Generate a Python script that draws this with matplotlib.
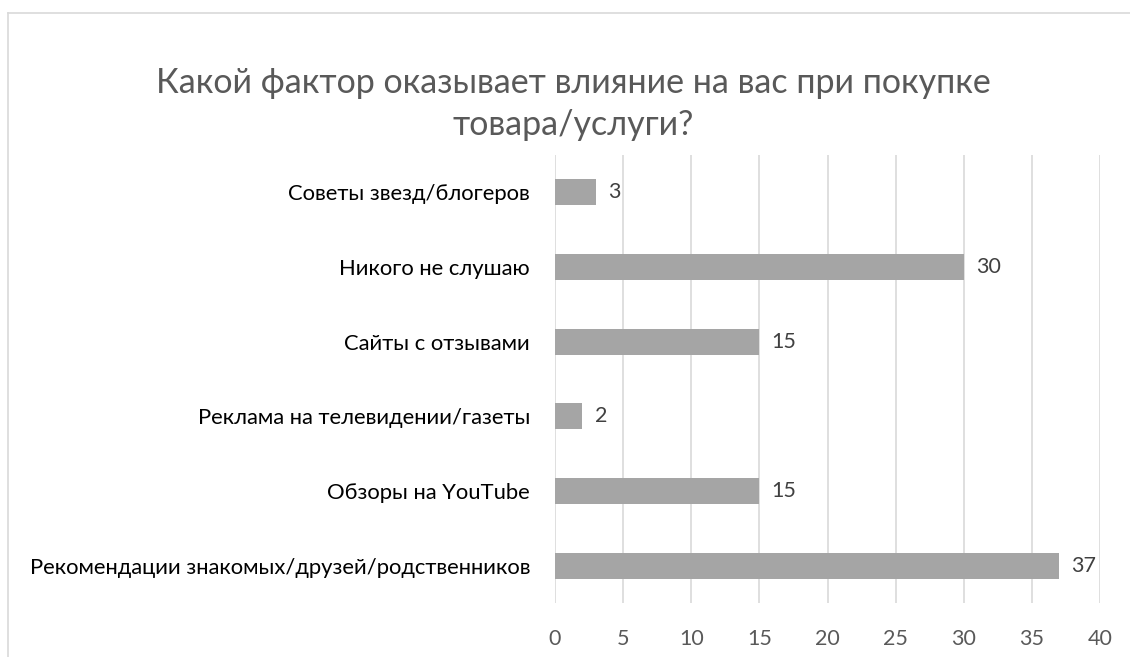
import matplotlib.pyplot as plt
from matplotlib.lines import Line2D

plt.rcParams['font.family'] = ['Lato', 'DejaVu Sans']

categories = ['Рекомендации знакомых/друзей/родственников', 'Обзоры на YouTube',
              'Реклама на телевидении/газеты', 'Сайты с отзывами',
              'Никого не слушаю', 'Советы звезд/блогеров']
values = [37, 15, 2, 15, 30, 3]
xticks = [0, 5, 10, 15, 20, 25, 30, 35, 40]
title = 'Какой фактор оказывает влияние на вас при покупке\nтовара/услуги?'

fig = plt.figure(figsize=(11.3, 6.57), dpi=100)
ax = fig.add_axes([555/1130, 1-603/657, 545/1130, 448/657])

ax.barh(range(len(values)), values, height=0.35, color='#a5a5a5', zorder=3)
for i, v in enumerate(values):
    ax.text(v + 0.9, i, str(v), va='center', ha='left', fontsize=15.5, color='#404040')

ax.set_xlim(0, 40)
ax.set_ylim(-0.5, len(values) - 0.5)
ax.set_xticks(xticks)
ax.set_yticks(range(len(values)))
ax.set_yticklabels(categories, fontsize=15.8, color='#000000')
ax.tick_params(axis='x', length=0, pad=19, labelsize=15.5, labelcolor='#595959')
ax.tick_params(axis='y', length=0, pad=18)
ax.grid(axis='x', color='#d9d9d9', linewidth=1.2, zorder=0)
for s in ax.spines.values():
    s.set_visible(False)

fig.text(573/1130, 1-104/657, title, ha='center', va='center', fontsize=24.5,
         color='#595959', linespacing=1.35)

# chart frame (top and left edges)
fig.add_artist(Line2D([8/1130, 1], [1-13/657, 1-13/657], color='#d9d9d9', lw=1.2))
fig.add_artist(Line2D([8/1130, 8/1130], [0, 1-13/657], color='#d9d9d9', lw=1.2))

fig.savefig('out.png', dpi=100)
